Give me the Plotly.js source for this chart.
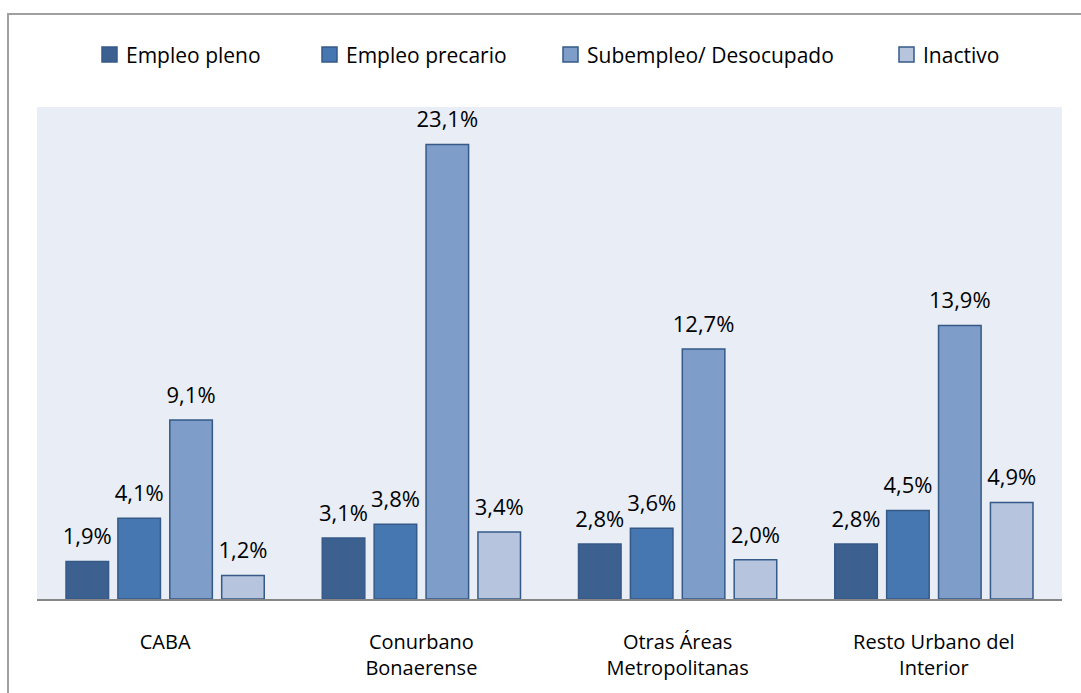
<!DOCTYPE html>
<html>
<head>
<meta charset="utf-8">
<script src="https://cdn.plot.ly/plotly-3.0.1.min.js"></script>
<style>html,body{margin:0;padding:0;background:#fff;}#chart{width:1081px;height:693px;}</style>
</head>
<body>
<div id="chart"></div>
<script>
const categories = ["CABA", "Conurbano<br>Bonaerense", "Otras Áreas<br>Metropolitanas", "Resto Urbano del<br>Interior"];
const seriesNames = ["Empleo pleno", "Empleo precario", "Subempleo/ Desocupado", "Inactivo"];
const empleoPleno = [1.9, 3.1, 2.8, 2.8];
const empleoPrecario = [4.1, 3.8, 3.6, 4.5];
const subempleo = [9.1, 23.1, 12.7, 13.9];
const inactivo = [1.2, 3.4, 2.0, 4.9];

const seriesValues = [empleoPleno, empleoPrecario, subempleo, inactivo];
const fills = ["#3C6191", "#4677B1", "#7F9DC9", "#B6C4DE"];
const FONT = "'Open Sans', 'Noto Sans', sans-serif";

// layout geometry (pixels)
const W = 1081, H = 693;
const M = {l: 37, r: 19, t: 107, b: 94};
const plotW = W - M.l - M.r, plotH = H - M.t - M.b;
const px2x = p => (p - M.l) / plotW;
const py2y = p => (H - M.b - p) / plotH;
const legendLeft = [102, 322, 563, 899];   // legend swatch left edges
const swatch = 15, legendMid = 54.5;

const fmt = v => v.toFixed(1).replace('.', ',') + '%';

const traces = [];
seriesValues.forEach((vals, i) => {
  traces.push({
    type: 'bar', name: seriesNames[i], x: categories, y: vals,
    offsetgroup: 'g' + i, showlegend: false,
    marker: {color: fills[i], line: {color: '#355A88', width: 1.5}},
    hoverinfo: 'skip'
  });
});
seriesValues.forEach((vals, i) => {
  traces.push({
    type: 'scatter', mode: 'markers+text', x: categories, y: vals,
    offsetgroup: 'g' + i, showlegend: false,
    marker: {size: 17, opacity: 0},
    text: vals.map(fmt), textposition: 'top center',
    textfont: {family: FONT, size: 22, color: '#000'},
    hoverinfo: 'skip', cliponaxis: false
  });
});

const shapes = [{type: 'rect', xref: 'paper', yref: 'paper', x0: px2x(8), x1: 1.2, y0: -0.4, y1: py2y(14),
                 line: {color: '#A0A0A0', width: 2}, fillcolor: 'rgba(0,0,0,0)', layer: 'below'}];
const annotations = [];
seriesNames.forEach((name, i) => {
  const left = legendLeft[i];
  shapes.push({type: 'rect', xref: 'paper', yref: 'paper',
               x0: px2x(left), x1: px2x(left + swatch),
               y0: py2y(legendMid + swatch / 2), y1: py2y(legendMid - swatch / 2),
               fillcolor: fills[i], line: {color: '#355A88', width: 1.5}});
  annotations.push({xref: 'paper', yref: 'paper', x: px2x(left + swatch + 7), y: py2y(legendMid + 1),
                    xanchor: 'left', yanchor: 'middle', showarrow: false, text: name,
                    font: {family: FONT, size: 21, color: '#000'}});
});

const layout = {
  width: W, height: H,
  margin: M,
  paper_bgcolor: '#ffffff', plot_bgcolor: '#E9EDF5',
  barmode: 'group', bargap: 0.19, bargroupgap: 0.18,
  scattermode: 'group', scattergap: 0.19,
  font: {family: FONT, size: 20, color: '#000'},
  showlegend: false,
  xaxis: {type: 'category', showline: true, linecolor: '#868686', linewidth: 2,
          ticks: '', ticklabelstandoff: 24, showgrid: false, zeroline: false,
          tickfont: {family: FONT, size: 20, color: '#000'}},
  yaxis: {range: [0, 25], visible: false, showgrid: false, zeroline: false},
  shapes: shapes,
  annotations: annotations
};

Plotly.newPlot('chart', traces, layout, {staticPlot: true});
</script>
</body>
</html>
